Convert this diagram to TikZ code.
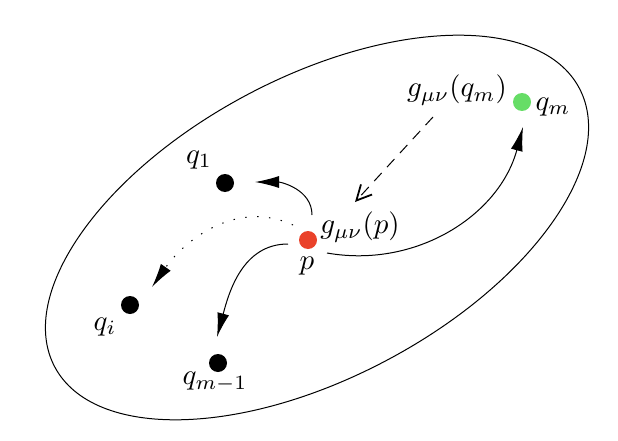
\documentclass[tikz,border=0pt]{standalone}
\usetikzlibrary{arrows.meta}
\definecolor{pred}{RGB}{234,66,42}
\definecolor{pgreen}{RGB}{102,221,102}
\tikzset{
  dot/.style={circle, fill=black, minimum size=18pt, inner sep=0pt},
  lab/.style={scale=2.9, transform shape, inner sep=0pt},
  conn/.style={line width=1pt, -{Latex[length=24pt,width=12pt]}},
  dotconn/.style={conn, dash pattern=on 1.4pt off 10.5pt},
  dashconn/.style={line width=1pt, dash pattern=on 11pt off 8pt, -{Straight Barb[length=15pt,width=15pt,line width=1.8pt]}},
  region/.style={line width=1pt}
}
\begin{document}
\begin{tikzpicture}[x=1pt,y=1pt]
\useasboundingbox (0,0) rectangle (618,440);
% region
\draw[region, rotate around={28:(317,212.5)}] (317,212.5) ellipse [x radius=297, y radius=150];
% points
\node[dot, fill=pred] (p) at (308,200) {};
\node[dot] (q1) at (225,257) {};
\node[dot, fill=pgreen] (qm) at (522,338) {};
\node[dot] (qi) at (130,135) {};
\node[dot] (qm1) at (218,77) {};
% labels
\node[lab] (lq1) at (199,280) {$q_1$};
\node[lab] (lgp) at (360,213) {$g_{\mu\nu}(p)$};
\node[lab] (lp) at (307,174) {$p$};
\node[lab] (lgqm) at (457,350) {$g_{\mu\nu}(q_m)$};
\node[lab] (lqm) at (553,333) {$q_m$};
\node[lab] (lqi) at (105,113) {$q_i$};
\node[lab] (lqm1) at (215,58) {$q_{m-1}$};
% connectors
\draw[conn] ([shift={(4,25)}]p.center) to[out=90,in=0] ([shift={(30,1)}]q1.center);
\draw[dotconn] ([shift={(-15,15)}]p.center) to[out=155,in=55] ([shift={(22,18)}]qi.center);
\draw[conn] ([shift={(-20,-4)}]p.center) to[out=180,in=75] ([shift={(-1,26)}]qm1.center);
\draw[conn] ([shift={(19,-13)}]p.center) to[out=-10,in=-105] ([shift={(1,-25)}]qm.center);
\draw[dashconn] ([shift={(-24,-27)}]lgqm.center) -- ([shift={(47,38)}]p.center);
\end{tikzpicture}
\end{document}
